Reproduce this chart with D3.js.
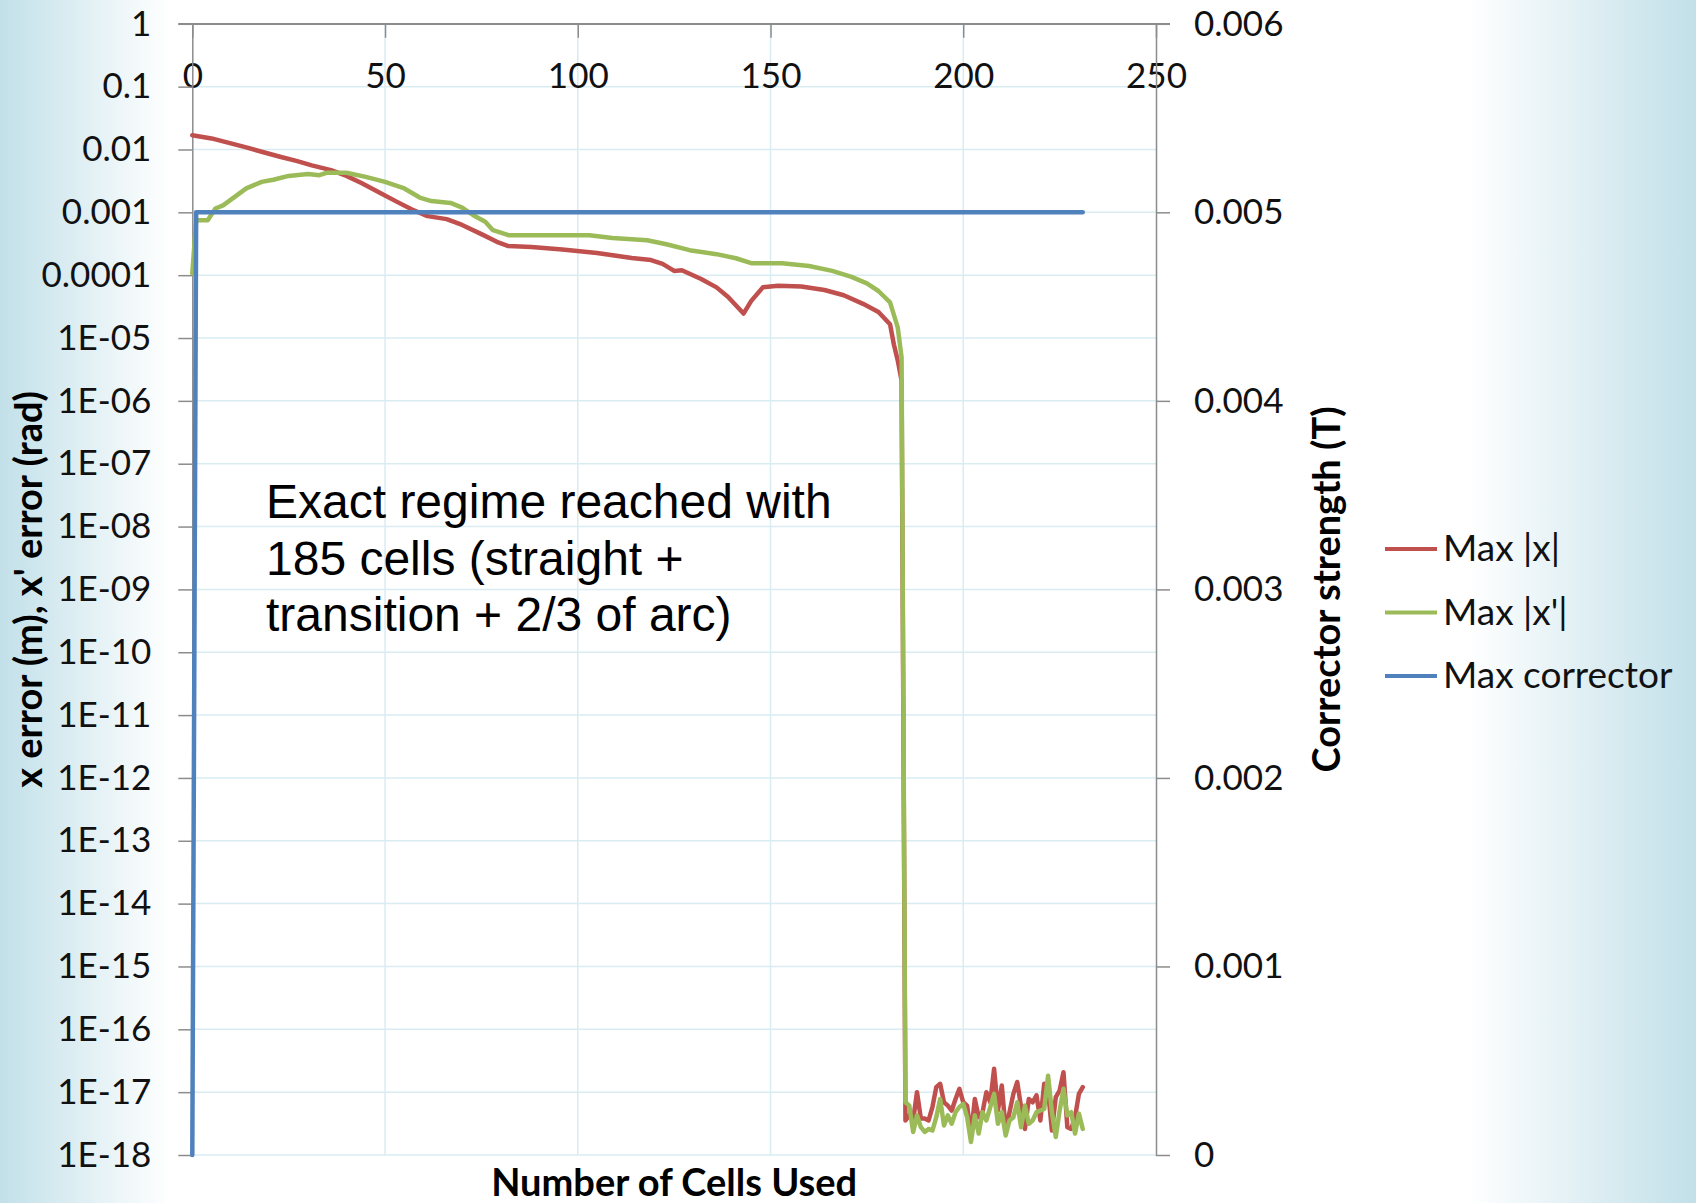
<!DOCTYPE html>
<html>
<head>
<meta charset="utf-8">
<script src="https://cdn.jsdelivr.net/npm/d3@7"></script>
<style>
  body { margin: 0; background: #fff; }
  svg { display: block; }
</style>
</head>
<body>
<div id="chart"></div>
<script>
// smooth part of the two error curves (cell number, value)
var redCells = [0, 5, 10, 14, 18, 23, 27, 31, 36, 40, 44, 49, 53, 57, 61, 66, 70, 75, 79, 82,
  88, 96, 105, 114, 119, 122, 125, 127, 132, 136, 139, 143, 145, 148, 152, 158, 164, 169, 174, 178,
  181, 182, 183, 184];
var redValues = [1.69e-2, 1.50e-2, 1.25e-2, 1.08e-2, 9.2e-3, 7.6e-3, 6.6e-3, 5.6e-3, 4.7e-3, 3.8e-3,
  2.9e-3, 2.0e-3, 1.48e-3, 1.11e-3, 8.7e-4, 7.8e-4, 6.3e-4, 4.5e-4, 3.4e-4, 2.9e-4,
  2.8e-4, 2.57e-4, 2.26e-4, 1.88e-4, 1.74e-4, 1.51e-4, 1.17e-4, 1.2e-4, 8.7e-5, 6.4e-5,
  4.5e-5, 2.45e-5, 3.9e-5, 6.4e-5, 6.8e-5, 6.6e-5, 5.8e-5, 4.8e-5, 3.5e-5, 2.6e-5,
  1.66e-5, 7.9e-6, 4.4e-6, 2.1e-6];

var greenCells = [0, 1, 4, 6, 8, 11, 14, 18, 21, 25, 30, 33, 35, 40, 45, 50, 55, 59, 62, 67,
  70, 73, 76, 78, 82, 92, 103, 109, 118, 123, 129, 136, 141, 145, 153, 160, 166, 171, 175, 178,
  181, 183, 184];
var greenValues = [1.07e-4, 7.5e-4, 7.5e-4, 1.15e-3, 1.29e-3, 1.76e-3, 2.4e-3, 3.05e-3, 3.3e-3, 3.8e-3,
  4.07e-3, 3.9e-3, 4.27e-3, 4.27e-3, 3.67e-3, 3.05e-3, 2.4e-3, 1.72e-3, 1.51e-3, 1.41e-3,
  1.19e-3, 8.9e-4, 7.1e-4, 5.2e-4, 4.33e-4, 4.33e-4, 4.33e-4, 3.9e-4, 3.6e-4, 3.1e-4,
  2.5e-4, 2.16e-4, 1.86e-4, 1.55e-4, 1.55e-4, 1.40e-4, 1.17e-4, 9.4e-5, 7.4e-5, 5.6e-5,
  3.7e-5, 1.48e-5, 4.9e-6];

// exact regime: round-off noise, one value per cell
var tailCells = [185, 186, 187, 188, 189, 190, 191, 192, 193, 194, 195, 196, 197, 198, 199, 200,
  201, 202, 203, 204, 205, 206, 207, 208, 209, 210, 211, 212, 213, 214, 215, 216,
  217, 218, 219, 220, 221, 222, 223, 224, 225, 226, 227, 228, 229, 230, 231];
var redTail = [3.55e-18, 4.27e-18, 3.55e-18, 1.0e-17, 3.8e-18, 3.8e-18, 3.55e-18, 5.8e-18, 1.2e-17, 1.36e-17,
  6.9e-18, 6.1e-18, 5.1e-18, 7.8e-18, 1.13e-17, 6.9e-18, 6.1e-18, 2.05e-18, 7.8e-18, 4.0e-18,
  4.8e-18, 1.0e-17, 6.9e-18, 2.35e-17, 5.1e-18, 1.28e-17, 2.45e-18, 4.8e-18, 9.4e-18, 1.45e-17,
  5.8e-18, 2.6e-18, 7.8e-18, 6.9e-18, 8.9e-18, 3.55e-18, 1.36e-17, 1.06e-17, 2.45e-18, 8.3e-18,
  1.06e-17, 2.08e-17, 2.77e-18, 2.6e-18, 4.0e-18, 9.4e-18, 1.2e-17];
var greenTail = [6.9e-18, 6.1e-18, 2.33e-18, 4.27e-18, 2.77e-18, 2.33e-18, 2.6e-18, 2.45e-18, 4.0e-18, 7.8e-18,
  2.95e-18, 4.27e-18, 3.15e-18, 4.8e-18, 5.8e-18, 6.5e-18, 4.0e-18, 1.61e-18, 4.27e-18, 2.2e-18,
  4.8e-18, 3.55e-18, 5.8e-18, 9.4e-18, 3.15e-18, 4.8e-18, 2.05e-18, 3.55e-18, 4.0e-18, 6.9e-18,
  2.77e-18, 6.1e-18, 3.15e-18, 3.55e-18, 4.8e-18, 5.1e-18, 5.4e-18, 1.83e-17, 4.8e-18, 1.94e-18,
  5.1e-18, 1.13e-17, 4.27e-18, 4.8e-18, 2.2e-18, 4.55e-18, 2.6e-18];

// corrector strength on the secondary axis
var blueCells = [0, 1, 231];
var blueValues = [0, 0.005, 0.005];

var xTicks = [0, 50, 100, 150, 200, 250];
var leftTicks = [1, 1e-1, 1e-2, 1e-3, 1e-4, 1e-5, 1e-6, 1e-7, 1e-8, 1e-9, 1e-10, 1e-11, 1e-12,
  1e-13, 1e-14, 1e-15, 1e-16, 1e-17, 1e-18];
var leftTickLabels = ["1", "0.1", "0.01", "0.001", "0.0001", "1E-05", "1E-06", "1E-07", "1E-08",
  "1E-09", "1E-10", "1E-11", "1E-12", "1E-13", "1E-14", "1E-15", "1E-16", "1E-17", "1E-18"];
var rightTicks = [0.006, 0.005, 0.004, 0.003, 0.002, 0.001, 0];
var rightTickLabels = ["0.006", "0.005", "0.004", "0.003", "0.002", "0.001", "0"];

var seriesNames = ["Max |x|", "Max |x'|", "Max corrector"];
var seriesColors = ["#c0504d", "#9bbb59", "#4f81bd"];

var annotation = ["Exact regime reached with", "185 cells (straight +", "transition + 2/3 of arc)"];

var W = 1696, H = 1203;
var plotL = 192.3, plotR = 1156, plotT = 23.8, plotB = 1155;
var font = "Lato, 'Open Sans', sans-serif";

var svg = d3.select("#chart").append("svg")
  .attr("width", W)
  .attr("height", H);

// background with the light blue fade at both edges
var grad = svg.append("defs").append("linearGradient")
  .attr("id", "bg").attr("x1", 0).attr("x2", 1).attr("y1", 0).attr("y2", 0);
grad.append("stop").attr("offset", 0).attr("stop-color", "#c2e0e9");
grad.append("stop").attr("offset", 0.1).attr("stop-color", "#ffffff");
grad.append("stop").attr("offset", 0.865).attr("stop-color", "#ffffff");
grad.append("stop").attr("offset", 1).attr("stop-color", "#c2e0e9");
svg.append("rect").attr("width", W).attr("height", H).attr("fill", "url(#bg)");
svg.append("rect").attr("x", plotL).attr("y", plotT)
  .attr("width", plotR - plotL).attr("height", plotB - plotT).attr("fill", "#fff");

var x = d3.scaleLinear().domain([0, 250]).range([plotL, plotR]);
var yLog = d3.scaleLog().domain([1e-18, 1]).range([plotB, plotT]);
var yRight = d3.scaleLinear().domain([0, 0.006]).range([plotB, plotT]);

// gridlines
svg.append("g").selectAll("line")
  .data(leftTicks)
  .enter().append("line")
  .attr("x1", plotL).attr("x2", plotR)
  .attr("y1", function(d) { return yLog(d); })
  .attr("y2", function(d) { return yLog(d); })
  .attr("stroke", "#d9ecf2").attr("stroke-width", 1.5);
svg.append("g").selectAll("line")
  .data(xTicks.slice(1, 5))
  .enter().append("line")
  .attr("x1", function(d) { return x(d); })
  .attr("x2", function(d) { return x(d); })
  .attr("y1", plotT).attr("y2", plotB)
  .attr("stroke", "#d9ecf2").attr("stroke-width", 1.5);

// axes
var xAxis = svg.append("g")
  .attr("transform", "translate(0," + plotT + ")")
  .call(d3.axisBottom(x).tickValues(xTicks).tickSize(14).tickSizeOuter(0));
xAxis.selectAll("text").attr("y", 64).attr("dy", 0);

var yAxis = svg.append("g")
  .attr("transform", "translate(" + plotL + ",0)")
  .call(d3.axisLeft(yLog).tickValues(leftTicks).tickSize(14).tickSizeOuter(0).tickPadding(27)
    .tickFormat(function(d, i) { return leftTickLabels[i]; }));

var y2Axis = svg.append("g")
  .attr("transform", "translate(" + plotR + ",0)")
  .call(d3.axisRight(yRight).tickValues(rightTicks).tickSize(14).tickSizeOuter(0).tickPadding(24)
    .tickFormat(function(d, i) { return rightTickLabels[i]; }));

[xAxis, yAxis, y2Axis].forEach(function(g) {
  g.select(".domain").attr("stroke", "#8c8c8c").attr("stroke-width", 1.5);
  g.selectAll(".tick line").attr("stroke", "#8c8c8c").attr("stroke-width", 1.5);
  g.selectAll("text").attr("font-family", font).attr("font-size", 35).attr("fill", "#111");
});
// x axis line runs out to the outer ticks
xAxis.append("line").attr("x1", plotL - 14).attr("x2", plotR + 14)
  .attr("stroke", "#8c8c8c").attr("stroke-width", 1.5);

// series
var lineLog = d3.line()
  .x(function(d) { return x(d[0]); })
  .y(function(d) { return yLog(d[1]); });
var lineRight = d3.line()
  .x(function(d) { return x(d[0]); })
  .y(function(d) { return yRight(d[1]); });

var redData = d3.zip(redCells.concat(tailCells), redValues.concat(redTail));
var greenData = d3.zip(greenCells.concat(tailCells), greenValues.concat(greenTail));
var blueData = d3.zip(blueCells, blueValues);

svg.append("path").datum(redData)
  .attr("d", lineLog).attr("fill", "none")
  .attr("stroke", seriesColors[0]).attr("stroke-width", 4.5)
  .attr("stroke-linejoin", "round").attr("stroke-linecap", "round");
svg.append("path").datum(greenData)
  .attr("d", lineLog).attr("fill", "none")
  .attr("stroke", seriesColors[1]).attr("stroke-width", 4.5)
  .attr("stroke-linejoin", "round").attr("stroke-linecap", "round");
svg.append("path").datum(blueData)
  .attr("d", lineRight).attr("fill", "none")
  .attr("stroke", seriesColors[2]).attr("stroke-width", 4.5)
  .attr("stroke-linejoin", "round").attr("stroke-linecap", "round");

// annotation
svg.append("text")
  .attr("font-family", "'Liberation Sans', Arial, sans-serif")
  .attr("font-size", 48).attr("fill", "#000")
  .selectAll("tspan")
  .data(annotation)
  .enter().append("tspan")
  .attr("x", 266)
  .attr("y", function(d, i) { return 518 + i * 56.7; })
  .text(function(d) { return d; });

// axis titles
svg.append("text")
  .attr("x", (plotL + plotR) / 2).attr("y", 1196)
  .attr("text-anchor", "middle")
  .attr("font-family", font).attr("font-weight", "bold").attr("font-size", 38)
  .text("Number of Cells Used");
svg.append("text")
  .attr("transform", "translate(42," + (plotT + plotB) / 2 + ") rotate(-90)")
  .attr("text-anchor", "middle")
  .attr("font-family", font).attr("font-weight", "bold").attr("font-size", 38)
  .text("x error (m), x' error (rad)");
svg.append("text")
  .attr("transform", "translate(1340," + (plotT + plotB) / 2 + ") rotate(-90)")
  .attr("text-anchor", "middle")
  .attr("font-family", font).attr("font-weight", "bold").attr("font-size", 38)
  .text("Corrector strength (T)");

// legend
var legend = svg.append("g").selectAll("g")
  .data(seriesNames)
  .enter().append("g")
  .attr("transform", function(d, i) { return "translate(1385," + (549 + i * 63.5) + ")"; });
legend.append("line")
  .attr("x1", 0).attr("x2", 52)
  .attr("stroke", function(d, i) { return seriesColors[i]; })
  .attr("stroke-width", 4);
legend.append("text")
  .attr("x", 58).attr("y", 12)
  .attr("font-family", font).attr("font-size", 37).attr("fill", "#111")
  .text(function(d) { return d; });
</script>
</body>
</html>
